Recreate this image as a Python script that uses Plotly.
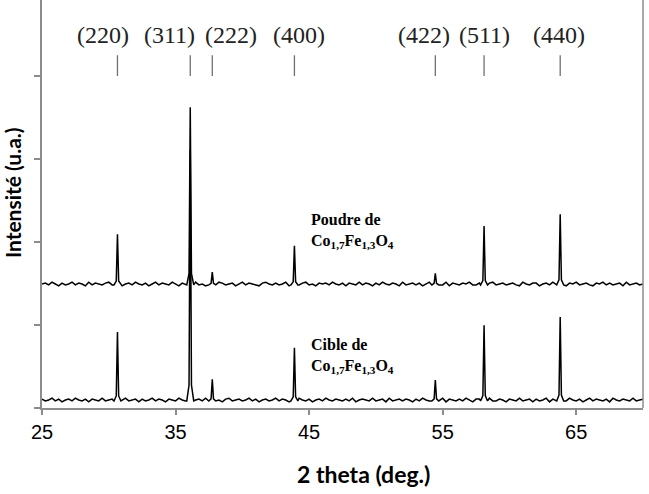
import numpy as np
import plotly.graph_objects as go

# ---- data ----
hkl_labels = ["(220)", "(311)", "(222)", "(400)", "(422)", "(511)", "(440)"]
peak_pos = [30.65, 36.1, 37.75, 43.9, 54.45, 58.1, 63.8]          # 2 theta (deg.)
cible_heights = [0.82, 3.01, 0.25, 0.63, 0.24, 0.90, 1.00]        # a.u. above baseline
poudre_heights = [0.60, 2.13, 0.145, 0.46, 0.13, 0.70, 0.84]
cible_baseline = 0.096
poudre_baseline = 1.494
baseline_x = [25 + 0.25 * i for i in range(181)]
cible_noise = [1, -1, 0, 2, -1, 1, -2, 0, 1, -1, 2, 0, -1, 1, -2, 1, 0, -1, 2, -1,
               0, 1, -2, 1, 0, 2, -1, 0, 1, -2, 1, -1, 0, 2, -1, 1, 0, -2, 1, 0,
               -1, 2, 0, -1, 1, -2, 0, 1, -1, 2, 0, -1, 1, 0, -2, 1, 2, -1, 0, 1,
               -1, 0, 2, -1, 1, -2, 0, 1, -1, 0, 2, -1, 1, 0, -2, 1, -1, 2, 0, -1,
               1, -2, 0, 1, -1, 2, 0, -1, 1, 0, -1, 1, -1, 2, -2, 0, 1, 0, -1, 2,
               -1, 0, 1, -2, 2, -1, 0, 1, -1, 1, 0, -2, 1, -1, 2, 0, -1, 0, 1, -1,
               2, -2, 1, 0, -1, 1, -1, 2, 0, -2, 1, 1, -1, 0, 2, -1, -1, 1, 0, -2,
               1, 0, -1, 2, -1, 0, 1, -2, 1, -1, 0, 2, -2, 1, 0, -1, 1, -1, 2, 0,
               -1, 1, -2, 0, 2, -1, 1, 0, -1, 1, -2, 2, 0, -1, 1, 0, -1, 2, -1, 0,
               1]
poudre_noise = [0, 1, -1, 2, 0, -2, 1, -1, 0, 2, -1, 1, 0, -2, 2, -1, 1, 0, -1, 1,
                2, -1, 0, 1, -2, 0, 1, -1, 2, 0, -1, 1, -2, 0, 2, -1, 1, 0, -1, 2,
                0, -2, 1, 0, -1, 1, 2, -1, 0, -2, 1, 0, -1, 2, 1, -1, 0, 1, -2, 0,
                2, -1, 1, 0, -1, -2, 1, 2, 0, -1, 1, -1, 0, 2, -2, 0, 1, -1, 1, 2,
                -1, 0, -2, 1, 0, 1, -1, 2, 0, -1, 1, -2, 1, 0, -1, 2, -1, 1, 0, -2,
                1, -1, 2, 0, -1, 1, 0, -2, 2, -1, 0, 1, -1, 1, -2, 0, 2, -1, 1, 0,
                -1, 2, -2, 1, 0, -1, 1, 0, 2, -1, -1, 1, 0, -2, 1, 2, -1, 0, 1, -1,
                0, 1, -1, -2, 2, 0, -1, 1, 1, -2, 0, 1, -1, 2, -1, 0, 1, -2, 1, 0,
                2, -1, 0, 1, -1, -2, 1, 0, 2, -1, 1, -1, 0, 1, -2, 2, -1, 0, 1, -1,
                0]
noise_unit = 0.011

# ---- build the patterns ----
def build(baseline, heights, noise):
    pts = []
    for x, n in zip(baseline_x, noise):
        if all(abs(x - p) > 0.3 for p in peak_pos):
            pts.append((x, baseline + n * noise_unit))
    for p, h in zip(peak_pos, heights):
        pts += [(p - 0.26, baseline - noise_unit), (p - 0.09, baseline + 0.06 * h),
                (p, baseline + h),
                (p + 0.09, baseline + 0.06 * h), (p + 0.26, baseline - noise_unit)]
    pts.sort()
    return [q[0] for q in pts], [q[1] for q in pts]

cx, cy = build(cible_baseline, cible_heights, cible_noise)
px, py = build(poudre_baseline, poudre_heights, poudre_noise)

fig = go.Figure()
for xs, ys in [(cx, cy), (px, py)]:
    fig.add_trace(go.Scatter(x=xs, y=ys, mode="lines",
                             line=dict(color="black", width=1.5),
                             showlegend=False, hoverinfo="skip"))

axis_grey = "#8c8c8c"
label_x = [29.55, 34.57, 39.13, 44.24, 53.6, 58.16, 63.68]
for lx, p, lab in zip(label_x, peak_pos, hkl_labels):
    fig.add_shape(type="line", x0=p, x1=p, y0=4.0, y1=4.25, xref="x", yref="y",
                  line=dict(color="#707070", width=1.3))
    fig.add_annotation(x=lx, y=4.494, text=lab, showarrow=False,
                       font=dict(family="Liberation Serif", size=24, color="#222"),
                       xanchor="center", yanchor="middle")

fig.add_annotation(x=45.0, y=2.13,
                   text="<b>Poudre de<br>Co<sub>1,7</sub>Fe<sub>1,3</sub>O<sub>4</sub></b>",
                   showarrow=False, align="left", xanchor="left", yanchor="middle",
                   font=dict(family="Liberation Serif", size=16, color="black"))
fig.add_annotation(x=45.0, y=0.63,
                   text="<b>Cible de<br>Co<sub>1,7</sub>Fe<sub>1,3</sub>O<sub>4</sub></b>",
                   showarrow=False, align="left", xanchor="left", yanchor="middle",
                   font=dict(family="Liberation Serif", size=16, color="black"))

# right border
fig.add_shape(type="line", x0=1, x1=1, y0=0, y1=1, xref="paper", yref="paper",
              line=dict(color=axis_grey, width=1.5))

# axis titles
fig.add_annotation(x=0.535, y=-0.162, xref="paper", yref="paper",
                   text="<b>2 theta (deg.)</b>", showarrow=False,
                   xanchor="center", yanchor="middle",
                   font=dict(family="Lato", size=23, color="black"))
fig.add_annotation(x=-0.05, y=0.529, xref="paper", yref="paper",
                   text="<b>Intensité (u.a.)</b>", showarrow=False, textangle=-90,
                   xanchor="center", yanchor="middle",
                   font=dict(family="Lato", size=21, color="black"))

fig.update_layout(
    width=649, height=494,
    margin=dict(l=42, r=6, t=0, b=86),
    paper_bgcolor="white", plot_bgcolor="white",
    xaxis=dict(range=[25, 70], tickvals=[25, 35, 45, 55, 65], showgrid=False,
               zeroline=False, showline=True, linecolor=axis_grey, linewidth=1.5,
               ticks="outside", ticklen=5, tickcolor=axis_grey, tickwidth=1.5,
               tickfont=dict(family="Liberation Sans", size=20, color="black")),
    yaxis=dict(range=[0, 4.916], dtick=1, tick0=0, showgrid=False, zeroline=False,
               showline=True, linecolor=axis_grey, linewidth=1.5,
               ticks="outside", ticklen=6, tickcolor=axis_grey, tickwidth=1.5,
               showticklabels=False),
)

fig.write_html("out.html")
